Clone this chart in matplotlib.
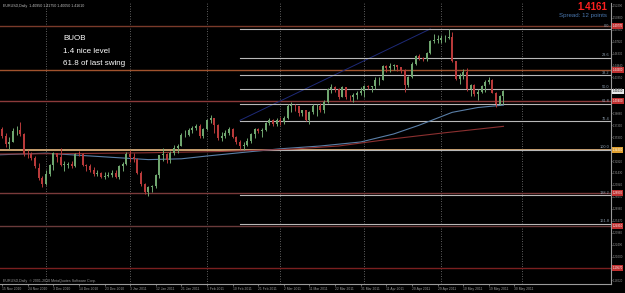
import matplotlib
matplotlib.use("Agg")
import matplotlib.pyplot as plt
import pandas as pd

plt.rcParams['font.family'] = ['Liberation Sans', 'DejaVu Sans']

# daily EURUSD bars, 12 Nov 2010 .. 25 May 2011 (weekdays)
dates = pd.bdate_range("2010-11-12", "2011-05-25")

opens = [1.3685, 1.3690, 1.3605, 1.3505, 1.3535, 1.3665, 1.3680, 1.3625, 1.3380, 1.3375, 1.3330, 1.3205, 1.3080,
         1.3005, 1.3135, 1.3245, 1.3390, 1.3345, 1.3245, 1.3245, 1.3255, 1.3225, 1.3385, 1.3375, 1.3240, 1.3230,
         1.3185, 1.3125, 1.3140, 1.3095, 1.3105, 1.3120, 1.3140, 1.3090, 1.3235, 1.3250,
         1.3380, 1.3345, 1.3320, 1.3145, 1.3000, 1.2905, 1.2965, 1.2975, 1.3115, 1.3365, 1.3385, 1.3300, 1.3395,
         1.3455, 1.3485, 1.3615, 1.3620, 1.3680, 1.3710, 1.3735, 1.3605,
         1.3695, 1.3805, 1.3825, 1.3745, 1.3580, 1.3605, 1.3640, 1.3690, 1.3595, 1.3535, 1.3475, 1.3495, 1.3545,
         1.3625, 1.3695, 1.3665, 1.3685, 1.3770, 1.3800, 1.3755,
         1.3800, 1.3785, 1.3830, 1.3985, 1.3985, 1.3975, 1.3895, 1.3925, 1.3805, 1.3905, 1.3975, 1.3975, 1.3935,
         1.4035, 1.4185, 1.4215, 1.4195, 1.4095, 1.4210, 1.4090, 1.4085, 1.4120, 1.4145,
         1.4160, 1.4230, 1.4220, 1.4225, 1.4305, 1.4305, 1.4475, 1.4455, 1.4475, 1.4485, 1.4465, 1.4430, 1.4235,
         1.4340, 1.4505, 1.4605, 1.4580, 1.4565, 1.4640, 1.4790, 1.4805,
         1.4805, 1.4825, 1.4830, 1.4835, 1.4535, 1.4315, 1.4355, 1.4405, 1.4185, 1.4235, 1.4125, 1.4155, 1.4230,
         1.4275, 1.4305, 1.4145, 1.4005, 1.4105]
highs = [1.3740, 1.3715, 1.3640, 1.3595, 1.3700, 1.3730, 1.3785, 1.3640, 1.3430, 1.3400, 1.3350, 1.3270, 1.3110,
         1.3175, 1.3260, 1.3400, 1.3395, 1.3450, 1.3295, 1.3285, 1.3290, 1.3395, 1.3420, 1.3390, 1.3255, 1.3255,
         1.3220, 1.3185, 1.3150, 1.3150, 1.3150, 1.3175, 1.3175, 1.3240, 1.3285, 1.3410,
         1.3435, 1.3395, 1.3330, 1.3170, 1.3020, 1.2975, 1.2990, 1.3135, 1.3370, 1.3455, 1.3395, 1.3420, 1.3490,
         1.3505, 1.3640, 1.3680, 1.3700, 1.3735, 1.3760, 1.3760, 1.3710,
         1.3820, 1.3862, 1.3830, 1.3755, 1.3650, 1.3685, 1.3720, 1.3700, 1.3610, 1.3555, 1.3530, 1.3580, 1.3640,
         1.3705, 1.3710, 1.3705, 1.3780, 1.3825, 1.3815, 1.3830,
         1.3840, 1.3860, 1.4000, 1.4035, 1.4000, 1.3980, 1.3935, 1.3935, 1.3920, 1.4000, 1.4010, 1.4020, 1.4055,
         1.4200, 1.4250, 1.4225, 1.4200, 1.4225, 1.4215, 1.4115, 1.4140, 1.4165, 1.4215,
         1.4245, 1.4245, 1.4225, 1.4335, 1.4345, 1.4485, 1.4490, 1.4520, 1.4500, 1.4495, 1.4470, 1.4435, 1.4350,
         1.4530, 1.4620, 1.4625, 1.4590, 1.4650, 1.4800, 1.4880, 1.4865,
         1.4870, 1.4865, 1.4940, 1.4905, 1.4545, 1.4390, 1.4440, 1.4450, 1.4255, 1.4250, 1.4195, 1.4235, 1.4300,
         1.4345, 1.4310, 1.4150, 1.4120, 1.4175]
lows = [1.3605, 1.3585, 1.3470, 1.3445, 1.3530, 1.3620, 1.3605, 1.3360, 1.3330, 1.3300, 1.3210, 1.3055, 1.2968,
        1.2995, 1.3110, 1.3175, 1.3285, 1.3230, 1.3170, 1.3200, 1.3205, 1.3215, 1.3355, 1.3235, 1.3170, 1.3160,
        1.3105, 1.3110, 1.3075, 1.3070, 1.3090, 1.3095, 1.3080, 1.3070, 1.3165, 1.3240,
        1.3280, 1.3275, 1.3130, 1.2985, 1.2875, 1.2861, 1.2905, 1.2960, 1.3085, 1.3290, 1.3265, 1.3265, 1.3370,
        1.3395, 1.3475, 1.3590, 1.3610, 1.3645, 1.3680, 1.3575, 1.3585,
        1.3680, 1.3765, 1.3640, 1.3555, 1.3545, 1.3580, 1.3620, 1.3580, 1.3500, 1.3440, 1.3430, 1.3480, 1.3520,
        1.3580, 1.3640, 1.3590, 1.3670, 1.3745, 1.3730, 1.3735,
        1.3740, 1.3760, 1.3815, 1.3900, 1.3915, 1.3860, 1.3855, 1.3795, 1.3750, 1.3880, 1.3850, 1.3905, 1.3890,
        1.4015, 1.4145, 1.4150, 1.4070, 1.4085, 1.4060, 1.4045, 1.4025, 1.4060, 1.4120,
        1.4090, 1.4185, 1.4155, 1.4195, 1.4245, 1.4300, 1.4400, 1.4405, 1.4425, 1.4410, 1.4390, 1.4155, 1.4220,
        1.4325, 1.4490, 1.4550, 1.4545, 1.4540, 1.4630, 1.4770, 1.4765,
        1.4770, 1.4780, 1.4810, 1.4530, 1.4305, 1.4255, 1.4320, 1.4170, 1.4100, 1.4105, 1.4050, 1.4145, 1.4150,
        1.4250, 1.4140, 1.3968, 1.3995, 1.4005]
closes = [1.3690, 1.3605, 1.3505, 1.3535, 1.3665, 1.3670, 1.3625, 1.3380, 1.3375, 1.3330, 1.3230, 1.3080, 1.3005,
          1.3135, 1.3245, 1.3390, 1.3345, 1.3245, 1.3245, 1.3255, 1.3225, 1.3385, 1.3375, 1.3240, 1.3230, 1.3185,
          1.3125, 1.3140, 1.3095, 1.3105, 1.3120, 1.3140, 1.3090, 1.3235, 1.3250, 1.3380,
          1.3345, 1.3320, 1.3145, 1.3000, 1.2905, 1.2965, 1.2975, 1.3115, 1.3365, 1.3385, 1.3300, 1.3395, 1.3455,
          1.3485, 1.3615, 1.3620, 1.3680, 1.3710, 1.3735, 1.3605, 1.3695,
          1.3805, 1.3825, 1.3745, 1.3580, 1.3605, 1.3640, 1.3690, 1.3595, 1.3535, 1.3475, 1.3495, 1.3545, 1.3625,
          1.3695, 1.3665, 1.3685, 1.3770, 1.3800, 1.3755, 1.3800,
          1.3785, 1.3830, 1.3985, 1.3985, 1.3975, 1.3895, 1.3925, 1.3805, 1.3905, 1.3975, 1.3975, 1.3935, 1.4035,
          1.4185, 1.4215, 1.4195, 1.4095, 1.4210, 1.4090, 1.4085, 1.4120, 1.4145, 1.4160,
          1.4230, 1.4220, 1.4225, 1.4305, 1.4305, 1.4475, 1.4455, 1.4475, 1.4485, 1.4465, 1.4430, 1.4235, 1.4340,
          1.4505, 1.4605, 1.4580, 1.4565, 1.4640, 1.4790, 1.4805, 1.4805,
          1.4825, 1.4830, 1.4835, 1.4535, 1.4315, 1.4355, 1.4405, 1.4185, 1.4235, 1.4125, 1.4155, 1.4230, 1.4275,
          1.4305, 1.4145, 1.4005, 1.4105, 1.4161]

# moving averages, sampled (bar index, price)
ma_blue_idx = [0, 13, 27, 41, 50, 57, 68, 77, 88, 99, 108, 115, 124, 131, 138]
ma_blue = [1.3370, 1.3390, 1.3350, 1.3310, 1.3320, 1.3355, 1.3405, 1.3445, 1.3480, 1.3530, 1.3630, 1.3740, 1.3900, 1.3960, 1.3990]
ma_red_idx = [0, 20, 40, 60, 80, 93, 107, 121, 138]
ma_red = [1.3380, 1.3385, 1.3395, 1.3410, 1.3440, 1.3480, 1.3565, 1.3640, 1.3725]

# user drawn horizontal levels
hlines = [1.4977, 1.4430, 1.4040, 1.3430, 1.2893, 1.2481, 1.1957]
hline_cols = ["#7a3a2a", "#a0522d", "#8b3a3a", "#c8a070", "#7a3a3a", "#6a3a3a", "#7a1f1f"]

# fibonacci (swing low 14 Feb 2011 -> high 4 May 2011)
fib_labels = ["0.0", "23.6", "38.2", "50.0", "61.8", "76.4", "100.0", "138.2", "161.8"]
fib_prices = [1.4940, 1.4584, 1.4363, 1.4185, 1.4007, 1.3786, 1.3430, 1.2863, 1.2507]
fib_start = 66

# trendline
trend_idx = [66, 118]
trend_px = [1.3800, 1.4940]

price_ticks = [1.52290, 1.50800, 1.49310, 1.47820, 1.46330, 1.44840, 1.43350, 1.41860, 1.40370, 1.38880,
               1.37390, 1.35900, 1.34410, 1.32920, 1.31430, 1.29940, 1.28450, 1.26960, 1.25470, 1.23980,
               1.22490, 1.21000, 1.19510, 1.18020]
date_idx = [1, 8, 15, 22, 29, 36, 43, 50, 57, 64, 71, 78, 85, 92, 99, 106, 113, 120, 127, 134, 141]
date_labels = ["15 Nov 2010", "24 Nov 2010", "3 Dec 2010", "14 Dec 2010", "23 Dec 2010", "3 Jan 2011",
               "12 Jan 2011", "21 Jan 2011", "1 Feb 2011", "10 Feb 2011", "21 Feb 2011", "2 Mar 2011",
               "11 Mar 2011", "22 Mar 2011", "31 Mar 2011", "11 Apr 2011", "20 Apr 2011", "29 Apr 2011",
               "10 May 2011", "19 May 2011", "30 May 2011"]
month_idx = [13, 36, 57, 77, 100, 121, 143]
last_price = 1.4161

W, H = 625, 293
YLO, YHI = 1.1758, 1.5264
fig = plt.figure(figsize=(W / 100, H / 100), dpi=100, facecolor="black")
ax = fig.add_axes([0, 9 / H, 611 / W, 281 / H], facecolor="black")
ax.set_xlim(0.44, 0.44 + 611 / 3.66)
ax.set_ylim(YLO, YHI)

up_col, dn_col = "#6fa66f", "#b83a3a"
n = len(closes)
for i in range(n):
    c = up_col if closes[i] >= opens[i] else dn_col
    ax.vlines(i, lows[i], highs[i], color=c, lw=0.7, zorder=4)
    lo, hi = min(opens[i], closes[i]), max(opens[i], closes[i])
    ax.bar(i, max(hi - lo, 0.0004), bottom=lo, width=0.55, color=c, lw=0, zorder=4)

ax.plot(ma_blue_idx, ma_blue, color="#5a7fa8", lw=0.8, zorder=3)
ax.plot(ma_red_idx, ma_red, color="#8b3030", lw=0.8, zorder=3)
ax.plot(trend_idx, trend_px, color="#1e2a78", lw=0.7, zorder=2)

for p, c in zip(hlines, hline_cols):
    ax.axhline(p, color=c, lw=1.0 if c != "#c8a070" else 1.4, zorder=1)

for p, lab in zip(fib_prices, fib_labels):
    ax.plot([fib_start, 200], [p, p], color="#b8b8b8", lw=0.8, zorder=2)
    ax.text(166.9, p + 0.0008, lab, color="#8fa0b0", fontsize=2.8, ha="right", va="bottom", zorder=5)

for m in month_idx:
    ax.axvline(m, color="#808080", lw=0.6, ls=(0, (1, 2)), zorder=0)

for s in ax.spines.values():
    s.set_visible(False)
ax.spines["right"].set_visible(True)
ax.spines["right"].set_color("#9a9a9a")
ax.spines["bottom"].set_visible(True)
ax.spines["bottom"].set_color("#9a9a9a")

ax.yaxis.tick_right()
ax.set_yticks(price_ticks)
ax.set_yticklabels([f"{t:.5f}" for t in price_ticks])
ax.tick_params(axis="y", colors="#9a9a9a", labelsize=2.0, length=1, width=0.5, pad=0.5)

ax.set_xticks(date_idx)
ax.set_xticklabels(date_labels)
ax.tick_params(axis="x", colors="#9a9a9a", labelsize=2.4, length=1.5, width=0.5, pad=0.8)
for lab in ax.get_xticklabels():
    lab.set_ha("left")

# price boxes on the right axis
for p, c in zip(hlines, hline_cols):
    ax.text(1.0025, (p - YLO) / (YHI - YLO), f"{p:.5f}", transform=ax.transAxes, fontsize=2.0,
            color="white", va="center", ha="left", zorder=10,
            bbox=dict(boxstyle="square,pad=0.25", fc="#c03030" if c != "#c8a070" else "#e0a030", ec="none"))
ax.text(1.0025, (last_price - YLO) / (YHI - YLO), f"{last_price:.5f}", transform=ax.transAxes,
        fontsize=2.0, color="black", va="center", ha="left", zorder=10,
        bbox=dict(boxstyle="square,pad=0.25", fc="#e8e8e8", ec="none"))

fig.text(3 / W, 1 - 7 / H, "EURUSD,Daily  1.40950 1.41750 1.40050 1.41610", color="#c0c0c0", fontsize=2.6)
fig.text(63 / W, 1 - 40 / H, "BUOB", color="white", fontsize=5.8)
fig.text(63 / W, 1 - 53 / H, "1.4 nice level", color="white", fontsize=5.8)
fig.text(63 / W, 1 - 65 / H, "61.8 of last swing", color="white", fontsize=5.8)
fig.text(607 / W, 1 - 10 / H, f"{last_price:.4f}", color="#ff2020", fontsize=7, fontweight="bold", ha="right")
fig.text(607 / W, 1 - 17 / H, "Spread: 12 points", color="#4a78b0", fontsize=4.4, ha="right")
fig.text(3 / W, 1 - 282 / H, "EURUSD,Daily  \u00a9 2001-2010 MetaQuotes Software Corp.", color="#9a9a9a", fontsize=2.6)

fig.savefig("out.png", dpi=100, facecolor="black")
